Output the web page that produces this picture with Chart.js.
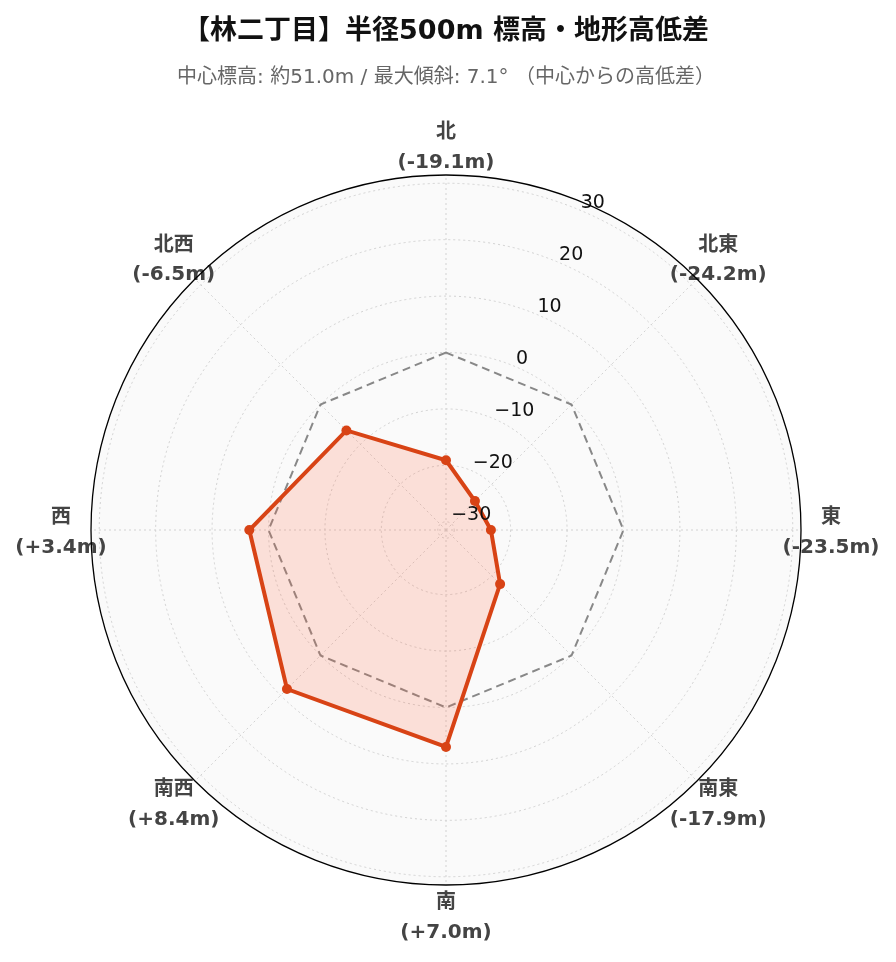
<!DOCTYPE html>
<html lang="ja">
<head>
<meta charset="utf-8">
<title>林二丁目 標高・地形高低差</title>
<script src="https://cdn.jsdelivr.net/npm/chart.js@4.4.1/dist/chart.umd.min.js"></script>
<style>
  html, body { margin: 0; padding: 0; background: #fff; }
  canvas { display: block; }
</style>
</head>
<body>
<canvas id="terrain-chart" width="896" height="962"></canvas>
<script>
// 方位と中心からの高低差 (m)
const directions = ['北', '北東', '東', '南東', '南', '南西', '西', '北西'];
const elevDiff = [-19.1, -24.2, -23.5, -17.9, 7.0, 8.4, 3.4, -6.5];
const baseLine = [0, 0, 0, 0, 0, 0, 0, 0];
const tickValues = [-30, -20, -10, 0, 10, 20, 30];
const radialMin = -31.46;
const radialMax = 31.46;

const FONT = '"DejaVu Sans", "Noto Sans CJK JP", sans-serif';

const fmtDiff = v => `(${v >= 0 ? '+' : ''}${v.toFixed(1)}m)`;

// tick labels along a 22.5° line, direction labels, and the outer ring
const polarDecor = {
    id: 'polarDecor',
    afterDraw(chart) {
        const s = chart.scales.r;
        const ctx = chart.ctx;
        ctx.save();

        const a = s.getIndexAngle(0) + Math.PI / 8 - Math.PI / 2;
        ctx.font = `19px ${FONT}`;
        ctx.fillStyle = '#111';
        ctx.textAlign = 'left';
        ctx.textBaseline = 'middle';
        tickValues.forEach(v => {
            const d = s.getDistanceFromCenterForValue(v);
            const x = s.xCenter + Math.cos(a) * d + 2;
            const y = s.yCenter + Math.sin(a) * d - 7;
            ctx.fillText(String(v).replace('-', '\u2212'), x, y);
        });

        ctx.textAlign = 'center';
        ctx.fillStyle = '#444';
        ctx.font = `bold 20px ${FONT}`;
        directions.forEach((name, i) => {
            const p = s.getPointPosition(i, s.drawingArea + 30);
            ctx.fillText(name, p.x, p.y - 12);
            ctx.fillText(fmtDiff(elevDiff[i]), p.x, p.y + 17.5);
        });

        ctx.beginPath();
        ctx.arc(s.xCenter, s.yCenter, s.drawingArea, 0, Math.PI * 2);
        ctx.strokeStyle = '#000';
        ctx.lineWidth = 1.3;
        ctx.stroke();
        ctx.restore();
    }
};

new Chart(document.getElementById('terrain-chart'), {
    type: 'radar',
    data: {
        labels: directions,
        datasets: [{
            label: '高低差',
            data: elevDiff,
            borderColor: '#d84315',
            borderWidth: 4,
            backgroundColor: 'rgba(255, 100, 60, 0.18)',
            fill: 'start',
            pointRadius: 5,
            pointBorderWidth: 0,
            pointBackgroundColor: '#d84315'
        }, {
            label: '中心標高',
            data: baseLine,
            borderColor: '#888',
            borderWidth: 2,
            borderDash: [8, 5],
            fill: false,
            pointRadius: 0
        }]
    },
    options: {
        responsive: false,
        animation: false,
        layout: { padding: { top: 0, left: 91, right: 95, bottom: 77 } },
        plugins: {
            legend: { display: false },
            tooltip: { enabled: false },
            title: {
                display: true,
                text: '【林二丁目】半径500m 標高・地形高低差',
                color: '#111',
                font: { family: FONT, size: 27, weight: 'bold' },
                padding: { top: 15.4, bottom: 0 }
            },
            subtitle: {
                display: true,
                text: '中心標高: 約51.0m / 最大傾斜: 7.1° （中心からの高低差）',
                color: '#666',
                font: { family: FONT, size: 20 },
                padding: { top: 18.2, bottom: 85 }
            }
        },
        scales: {
            r: {
                min: radialMin,
                max: radialMax,
                backgroundColor: '#fafafa',
                afterBuildTicks: s => { s.ticks = tickValues.map(v => ({ value: v })); },
                ticks: { display: false },
                pointLabels: { display: false },
                grid: { circular: true, color: '#d2d2d2', lineWidth: 1 },
                border: { dash: [2, 3] },
                angleLines: { color: '#d2d2d2', lineWidth: 1, borderDash: [2, 3] }
            }
        }
    },
    plugins: [polarDecor]
});
</script>
</body>
</html>
